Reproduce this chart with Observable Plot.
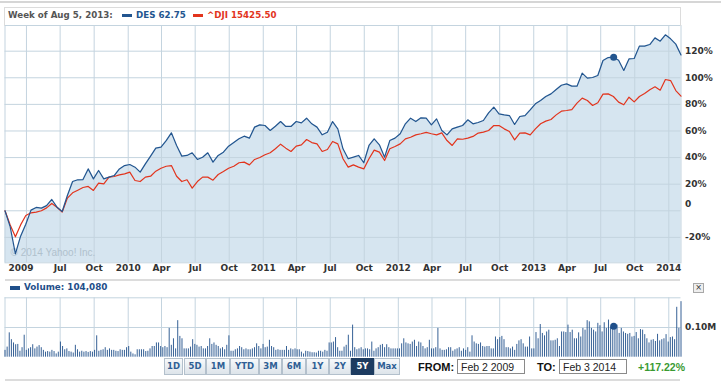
<!DOCTYPE html>
<html>
<head>
<meta charset="utf-8">
<script src="https://cdn.jsdelivr.net/npm/d3@7"></script>
<script src="https://cdn.jsdelivr.net/npm/@observablehq/plot@0.6"></script>
<style>
html,body{margin:0;padding:0;background:#fff;}
body{width:721px;height:381px;position:relative;overflow:hidden;font-family:"DejaVu Sans",Verdana,sans-serif;}
.abs{position:absolute;white-space:nowrap;}
#main,#vol{position:absolute;left:0;}
#main{top:0;}
#vol{top:290px;}
.btn{position:absolute;top:358px;height:15px;border:1px solid #b3c0cc;background:linear-gradient(#f7f9fb,#dde4ea);color:#2f5f95;font-weight:bold;font-size:8.5px;line-height:15px;text-align:center;box-sizing:content-box;}
.btn.sel{background:#1c3b60;color:#fff;border-color:#1c3b60;}
.lab{font-family:"Liberation Sans",Arial,sans-serif;font-weight:bold;font-size:11px;color:#111;}
.inp{position:absolute;top:359px;height:15px;border:1px solid #8a8a8a;background:#fff;font-family:"Liberation Sans",Arial,sans-serif;font-size:10.5px;line-height:15px;color:#222;padding-left:3px;box-sizing:border-box;}
</style>
</head>
<body>
<div id="main"></div>
<div id="vol"></div>
<div id="overlay"></div>
<script>
// ---------------- data ----------------
const startDate = "2009-02-02";
const endDate = "2014-02-03";

// DES % change since start (samples evenly spaced over the period)
const desPct = [0,-12.1,-32.4,-19.1,-10.1,0.5,2.5,2.0,3.9,8.5,2.7,-0.5,11.5,22.0,23.3,23.5,31.5,24.0,30.3,24.0,
25.3,26.5,31.5,34.0,34.8,32.8,29.1,35.3,41.1,47.1,47.8,52.8,58.6,49.1,41.1,41.6,43.6,38.6,40.3,43.6,
36.6,41.6,44.1,48.6,51.3,54.1,56.1,54.6,62.9,64.6,64.1,60.4,63.6,67.1,63.4,63.4,67.1,66.1,69.6,65.4,
62.9,57.1,59.1,67.1,61.6,46.6,39.1,40.3,41.6,36.1,49.1,54.1,49.6,40.3,52.8,54.6,57.9,65.4,69.6,67.1,
69.9,69.6,64.6,69.1,60.4,57.1,61.6,62.9,64.1,68.4,65.4,66.4,67.9,73.6,77.9,72.9,72.1,71.6,64.9,70.9,
71.6,75.9,80.4,82.9,85.9,87.9,91.2,94.4,95.4,93.7,93.7,103.5,99.7,100.2,101.7,113.0,115.2,115.5,113.2,105.5,
114.2,114.5,123.8,123.8,125.0,130.0,127.5,132.3,129.3,125.3,117.2];

// ^DJI % change since start
const djiPct = [0,-10.6,-19.6,-10.6,-3.5,-1.5,-1.0,0,2.2,5.5,2.7,-1.0,9.5,13.5,15.5,17.5,18.3,15.3,20.8,20.3,
25.3,25.8,27.0,27.8,29.1,22.8,22.0,25.3,26.0,29.8,32.0,33.5,34.0,26.0,22.0,23.3,17.0,22.0,25.3,25.3,
23.0,27.3,29.5,32.0,33.5,36.1,36.6,34.5,38.6,40.1,42.1,43.6,46.6,50.1,47.1,44.6,48.6,49.6,53.6,51.3,
50.3,44.6,46.1,52.1,50.3,39.1,32.8,34.5,32.8,31.5,39.1,45.6,44.1,37.8,46.6,48.3,50.3,54.1,55.3,57.1,
57.9,58.9,57.9,57.1,58.6,52.8,49.1,54.1,53.8,54.6,55.9,58.4,59.1,60.4,64.1,64.1,61.6,59.6,53.3,58.4,
58.6,57.1,61.6,65.4,67.4,68.6,72.1,74.9,75.4,76.1,80.9,84.7,82.9,79.2,81.2,87.7,87.9,85.9,81.7,79.7,
85.4,81.9,85.9,88.2,91.0,93.2,90.7,98.7,97.9,90.4,86.2];

// Volume in thousands of shares (bars evenly spaced over the period)
const volumeK = [23,34,82,59,48,42,43,20,32,74,23,28,32,42,28,34,39,32,23,17,19,17,23,19,11,17,51,36,25,28,
19,17,14,40,25,17,20,17,19,16,19,17,23,72,20,23,25,32,23,28,23,23,20,19,25,23,23,32,36,17,
11,8,25,25,25,25,19,20,28,36,36,48,48,36,32,36,32,97,40,62,28,123,70,62,28,28,28,34,59,43,
40,34,36,28,28,36,62,43,48,40,36,28,32,25,40,72,20,20,25,28,36,32,25,28,25,25,28,32,45,36,
28,43,32,34,57,36,32,23,25,23,23,23,36,23,28,25,28,25,25,17,11,20,19,17,15,15,14,20,20,17,
23,20,48,48,51,66,32,20,20,34,40,74,20,108,32,25,28,32,25,28,28,
25,51,20,28,32,40,43,32,42,32,28,28,28,28,28,45,62,48,45,43,51,57,36,51,48,36,28,32,57,28,
28,32,97,28,23,23,25,32,32,20,25,28,32,20,28,23,32,17,72,51,45,43,48,36,34,36,36,28,28,68,
59,66,70,59,32,32,28,34,23,43,55,59,45,34,34,68,28,28,83,62,110,80,72,85,91,55,55,57,62,36,
85,85,83,108,83,91,62,62,82,68,97,91,123,119,97,91,85,114,106,85,116,97,125,100,97,93,108,80,97,85,
80,77,80,68,70,83,62,93,91,76,62,48,57,59,53,77,55,59,62,76,51,66,68,59,168,97,187];

// axis ticks
const xTickDates = ["2009-04-01","2009-07-01","2009-10-01","2010-01-01","2010-04-01","2010-07-01","2010-10-01",
"2011-01-01","2011-04-01","2011-07-01","2011-10-01","2012-01-01","2012-04-01","2012-07-01","2012-10-01",
"2013-01-01","2013-04-01","2013-07-01","2013-10-01","2014-01-01"];
const xTickLabels = ["","Jul","Oct","2010","Apr","Jul","Oct","2011","Apr","Jul","Oct","2012","Apr","Jul","Oct",
"2013","Apr","Jul","Oct","2014"];
const startLabel = "2009";
const yTicks = [120,100,80,60,40,20,0,-20];
const yGrid = [120,100,80,60,40,20,0,-20];
const yDomain = [-39.1,139.3];
const volTicks = [100000];
const volTickLabels = ["0.10M"];
const volDomain = [0,200000];

// hover state
const hoverDate = "2013-08-05";
const hoverLabel = "Week of Aug 5, 2013:";
const hoverDesPct = 115.5;
const hoverDesPrice = "62.75";
const hoverDji = "15425.50";
const hoverVolume = 104080;
const totalChange = "+117.22%";
const ranges = ["1D","5D","1M","YTD","3M","6M","1Y","2Y","5Y","Max"];
const selectedRange = "5Y";
const fromText = "Feb 2 2009";
const toText = "Feb 3 2014";
const copyright = "© 2014 Yahoo! Inc.";

// ---------------- build ----------------
const BLUE = "#22558f", RED = "#e2341d", GRID = "#c4d4df", FILL = "#d6e5f0", VOLC = "#1f4f8a";
const t0 = new Date(startDate), t1 = new Date(endDate);
const span = t1 - t0;
const series = desPct.map((v,k) => ({date:new Date(+t0 + k*span/(desPct.length-1)), des:v, dji:djiPct[k]}));
const vols = volumeK.map((v,k) => ({date:new Date(+t0 + k*span/(volumeK.length-1)), v:v*1000}));
const xTicks = xTickDates.map((d,i) => ({date:new Date(d), label:xTickLabels[i]}));
const hd = new Date(hoverDate);

const font = "DejaVu Sans, Verdana, sans-serif";

const main = Plot.plot({
  width:721, height:282, marginTop:25, marginBottom:19.7, marginLeft:4.5, marginRight:40.5,
  style:{background:"transparent", overflow:"visible"},
  x:{type:"utc", domain:[t0,t1], axis:null},
  y:{domain:yDomain, axis:null},
  marks:[
    Plot.areaY(series, {x:"date", y1:yDomain[0], y2:"des", fill:FILL, curve:"linear"}),
    Plot.ruleY(yGrid, {stroke:GRID, strokeWidth:1}),
    Plot.ruleX(xTicks, {x:"date", stroke:GRID, strokeWidth:1}),
    Plot.frame({stroke:GRID}),
    Plot.text([copyright], {frameAnchor:"bottom-left", textAnchor:"start", dx:5.5, dy:-6.5, fill:"#b0c1cd", fontSize:10, fontFamily:"Liberation Sans, Arial, sans-serif"}),
    Plot.line(series, {x:"date", y:"dji", stroke:RED, strokeWidth:1.2}),
    Plot.line(series, {x:"date", y:"des", stroke:BLUE, strokeWidth:1.2}),
    Plot.dot([{date:hd, v:hoverDesPct}], {x:"date", y:"v", r:3.5, fill:BLUE, stroke:null}),
    Plot.text(yTicks.filter(d => d !== 0), {y:d => d, frameAnchor:"right", textAnchor:"start", dx:4, text:d => d + "%", fill:"#333", fontSize:9, fontWeight:"bold", fontFamily:font}),
    Plot.text(yTicks.filter(d => d === 0), {y:d => d, frameAnchor:"right", textAnchor:"start", dx:4, dy:-7, text:d => String(d), fill:"#333", fontSize:9, fontWeight:"bold", fontFamily:font}),
    Plot.text(xTicks.filter(d => d.label), {x:"date", text:"label", frameAnchor:"bottom", dy:8, fill:"#333", fontSize:9, fontWeight:"bold", fontFamily:font}),
    Plot.text([{date:t0, label:startLabel}], {x:"date", text:"label", frameAnchor:"bottom", textAnchor:"start", dx:3.5, dy:8, fill:"#333", fontSize:9, fontWeight:"bold", fontFamily:font})
  ]
});
document.getElementById("main").appendChild(main);

const vol = Plot.plot({
  width:721, height:70, marginTop:7.3, marginBottom:3.3, marginLeft:4.5, marginRight:40.5,
  style:{background:"transparent", overflow:"visible"},
  x:{type:"utc", domain:[t0,t1], axis:null},
  y:{domain:volDomain, axis:null},
  marks:[
    Plot.ruleX(xTicks, {x:"date", stroke:GRID}),
    Plot.ruleX([t0], {stroke:GRID}),
    Plot.ruleY([volTicks[0], volDomain[1]], {stroke:GRID}),
    Plot.ruleX(vols, {x:"date", y1:0, y2:"v", stroke:VOLC, strokeWidth:0.9}),
    Plot.dot([{date:hd, v:hoverVolume}], {x:"date", y:"v", r:3.5, fill:VOLC, stroke:null}),
    Plot.text(volTicks, {y:d => d, frameAnchor:"right", textAnchor:"start", dx:4, text:(d,i) => volTickLabels[i], fill:"#333", fontSize:9, fontWeight:"bold", fontFamily:font})
  ]
});
document.getElementById("vol").appendChild(vol);

// ---------------- HTML chrome ----------------
const ov = document.getElementById("overlay");
function add(html){ ov.insertAdjacentHTML("beforeend", html); }
add(`<div class="abs" style="left:0;top:1px;width:721px;height:2px;background:#d6d6d6"></div>`);
add(`<div class="abs" style="left:4px;top:7px;width:675px;height:18px;border:1px solid #dcdcdc;border-bottom:none"></div>`);
add(`<div class="abs" style="left:8px;top:10px;font-size:8.7px;font-weight:bold;line-height:11px;color:#555">${hoverLabel}</div>`);
add(`<div class="abs" style="left:122px;top:13.5px;width:10px;height:3.5px;background:${BLUE}"></div>`);
add(`<div class="abs" style="left:136px;top:10px;font-size:8.7px;font-weight:bold;line-height:11px;color:${BLUE}">DES ${hoverDesPrice}</div>`);
add(`<div class="abs" style="left:193px;top:13.5px;width:10px;height:3.5px;background:${RED}"></div>`);
add(`<div class="abs" style="left:207px;top:10px;font-size:8.7px;font-weight:bold;line-height:11px;color:${RED}">^DJI ${hoverDji}</div>`);
add(`<div class="abs" style="left:5px;top:279px;width:675px;height:2px;background:#dcdcdc"></div>`);
add(`<div class="abs" style="left:10px;top:286px;width:10px;height:3.5px;background:${VOLC}"></div>`);
add(`<div class="abs" style="left:24px;top:282px;font-size:8.8px;font-weight:bold;line-height:11px;color:${VOLC}">Volume: ${d3.format(",")(hoverVolume)}</div>`);
add(`<div class="abs" style="left:693px;top:283px;width:9px;height:8px;border:1px solid #a8a8a8;background:#eee;font-size:8px;line-height:8px;text-align:center;color:#333">×</div>`);
const btnPos = [[164,18],[184,21],[206,23],[230,28],[259,22],[282,23],[306,22],[329,21],[351,22],[374,25]];
ranges.forEach((r,i) => {
  add(`<div class="btn${r===selectedRange?" sel":""}" style="left:${btnPos[i][0]}px;width:${btnPos[i][1]-1}px">${r}</div>`);
});
add(`<div class="abs lab" style="left:418px;top:360px;line-height:14px">FROM:</div>`);
add(`<div class="inp" style="left:457px;width:68px">${fromText}</div>`);
add(`<div class="abs lab" style="left:537px;top:360px;line-height:14px">TO:</div>`);
add(`<div class="inp" style="left:559px;width:68px">${toText}</div>`);
add(`<div class="abs lab" style="left:638px;top:360px;line-height:14px;color:#3a9a32;font-size:10.5px">${totalChange}</div>`);
add(`<div class="abs" style="left:5px;top:379px;width:675px;height:2px;background:#dcdcdc"></div>`);
</script>
</body>
</html>
